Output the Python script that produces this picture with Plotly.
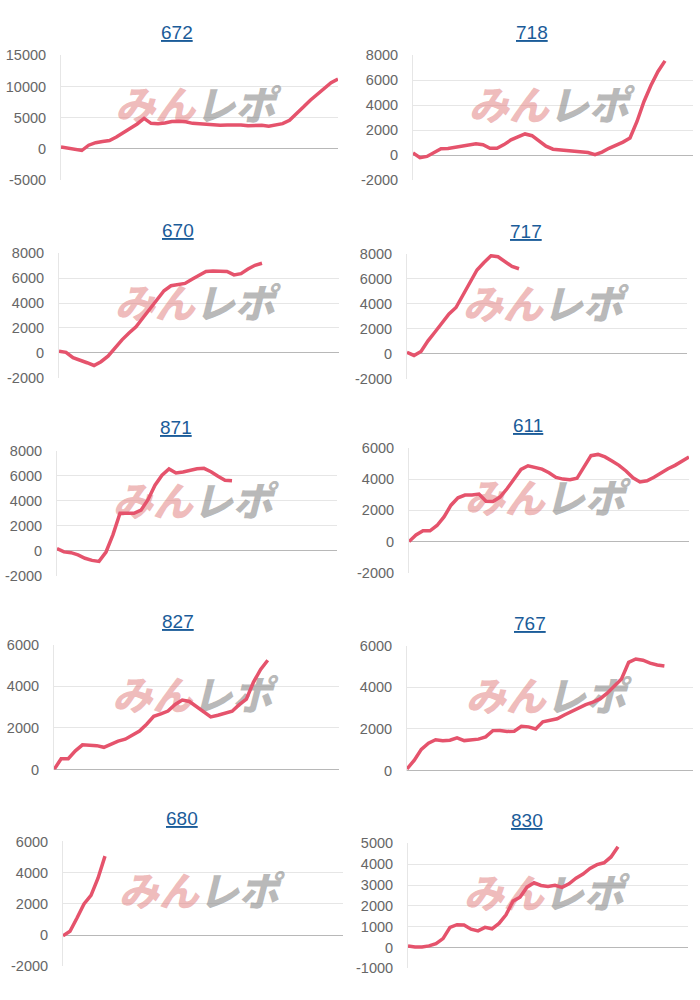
import plotly.graph_objects as go

# ---- data (balance per ~200 games) ----
titles = ["672", "718", "670", "717", "871", "611", "827", "767", "680", "830"]

s672 = [300, 100, -50, -250, 600, 1000, 1200, 1350, 1900, 2600, 3300, 4000, 4900, 4100,
        4050, 4150, 4400, 4450, 4350, 4100, 4050, 3950, 3850, 3800, 3850, 3900, 3850, 3700,
        3800, 3800, 3650, 3850, 4050, 4600, 5600, 6700, 7800, 8750, 9650, 10600, 11200]
s718 = [180, -200, -100, 180, 520, 540, 630, 770, 840, 920, 840, 560, 560, 850, 1230, 1500,
        1700, 1560, 1150, 720, 480, 420, 430, 340, 270, 220, 50, 250, 550, 780, 1050, 1380,
        2700, 4300, 5600, 6700, 7550]
s670 = [150, 50, -370, -610, -780, -1000, -700, -250, 450, 1050, 1600, 2100, 2820, 3550,
        4280, 4980, 5380, 5440, 5570, 5900, 6250, 6520, 6560, 6560, 6530, 6250, 6350, 6720,
        7020, 7180]
s717 = [130, -120, 200, 1050, 1760, 2480, 3200, 3720, 4680, 5700, 6720, 7320, 7860, 7780,
        7420, 7000, 6820]
s871 = [180, -90, -150, -330, -600, -770, -850, -100, 1300, 3000, 3000, 3000, 3250, 4090,
        5250, 6050, 6550, 6230, 6300, 6430, 6560, 6600, 6330, 5960, 5650, 5600]
s611 = [0, 420, 690, 690, 1030, 1580, 2330, 2800, 2980, 2980, 3040, 2580, 2560, 2850, 3380,
        4010, 4620, 4850, 4750, 4640, 4410, 4110, 4000, 3960, 4050, 4760, 5500, 5580, 5420,
        5160, 4880, 4520, 4080, 3820, 3890, 4120, 4420, 4660, 4880, 5130, 5420]
s827 = [0, 520, 520, 900, 1190, 1190, 1150, 1070, 1240, 1370, 1460, 1660, 1850, 2180, 2560,
        2680, 2810, 3130, 3340, 3270, 3020, 2730, 2530, 2610, 2690, 2800, 3120, 3380, 4200,
        4810, 5250]
s767 = [80, 490, 1020, 1320, 1480, 1430, 1460, 1570, 1440, 1460, 1510, 1620, 1920, 1930,
        1880, 1890, 2130, 2100, 2000, 2340, 2410, 2490, 2670, 2850, 3020, 3170, 3290, 3440,
        3720, 4040, 4400, 5200, 5360, 5300, 5160, 5070, 5020]
s680 = [-40, 250, 1100, 2000, 2550, 3650, 5060]
s830 = [80, 30, 30, 80, 190, 430, 970, 1100, 1080, 880, 800, 970, 900, 1160, 1570, 2230,
        2420, 2900, 3110, 2980, 2930, 2990, 2890, 3060, 3330, 3530, 3800, 3980, 4070, 4350,
        4840]

series = [s672, s718, s670, s717, s871, s611, s827, s767, s680, s830]

# ---- y tick values per chart ----
y_ticks = [
    [-5000, 0, 5000, 10000, 15000],
    [-2000, 0, 2000, 4000, 6000, 8000],
    [-2000, 0, 2000, 4000, 6000, 8000],
    [-2000, 0, 2000, 4000, 6000, 8000],
    [-2000, 0, 2000, 4000, 6000, 8000],
    [-2000, 0, 2000, 4000, 6000],
    [0, 2000, 4000, 6000],
    [0, 2000, 4000, 6000],
    [-2000, 0, 2000, 4000, 6000],
    [-1000, 0, 1000, 2000, 3000, 4000, 5000],
]
X_MAX = 40

# plot boxes in pixels: (left, right, top, bottom)
boxes = [(61, 338, 48, 175), (413, 693, 48, 175),
         (59, 339, 249, 376), (407, 687, 250, 377),
         (57, 337, 450, 577), (409, 689, 447, 574),
         (54, 339, 647, 774), (407, 693, 648, 775),
         (63, 343, 847, 974), (408, 688, 849, 976)]
title_pos = [(177, 25), (532, 25), (178, 226), (526, 227), (176, 426), (528, 424),
             (178, 623), (530, 625), (182, 824), (527, 826)]

W, H = 700, 1000
LINE_COLOR = "#e5536c"
TICK_FONT = dict(family="Liberation Sans, Arial, sans-serif", size=14.5, color="#666666")

fig = go.Figure()
layout = dict(width=W, height=H, margin=dict(l=0, r=0, t=0, b=0),
              paper_bgcolor="white", plot_bgcolor="white", showlegend=False)
annotations = []

wm_text = ("<i><span style='color:rgba(225,130,130,0.55)'>みん</span>"
           "<span style='color:rgba(125,125,125,0.55)'>レポ</span></i>")

for i, (vals, (l, r, t, b)) in enumerate(zip(series, boxes)):
    n = i + 1
    xa = "x" if n == 1 else f"x{n}"
    ya = "y" if n == 1 else f"y{n}"
    xkey = "xaxis" if n == 1 else f"xaxis{n}"
    ykey = "yaxis" if n == 1 else f"yaxis{n}"
    tv = y_ticks[i]
    y0, y1 = tv[0], tv[-1]

    # watermark (drawn beneath the line)
    fig.add_trace(go.Scatter(
        x=[X_MAX * 0.485], y=[y1 - 0.44 * (y1 - y0)], mode="text", text=[wm_text],
        textfont=dict(family="Noto Sans CJK JP", size=40, weight=900),
        xaxis=xa, yaxis=ya, hoverinfo="skip", cliponaxis=False))

    fig.add_trace(go.Scatter(
        x=list(range(len(vals))), y=vals, mode="lines",
        line=dict(color=LINE_COLOR, width=3.5),
        xaxis=xa, yaxis=ya, hoverinfo="skip"))

    layout[xkey] = dict(domain=[l / W, r / W], anchor=ya, range=[0, X_MAX],
                        showgrid=False, zeroline=False, showticklabels=False,
                        showline=False, fixedrange=True)
    layout[ykey] = dict(domain=[1 - b / H, 1 - t / H], anchor=xa, range=[y0, y1],
                        tickmode="array", tickvals=tv, ticktext=[str(v) for v in tv],
                        showgrid=True, gridcolor="#e6e6e6",
                        gridwidth=1, zeroline=True, zerolinecolor="#b8b8b8", zerolinewidth=1,
                        showline=True, linecolor="#e6e6e6", linewidth=1,
                        ticks="", ticklabelstandoff=11, tickfont=TICK_FONT,
                        fixedrange=True)

    tx, ty = title_pos[i]
    annotations.append(dict(
        text=f"<u>{titles[i]}</u>", x=tx / W, y=1 - ty / H, xref="paper", yref="paper",
        xanchor="center", yanchor="middle", showarrow=False,
        font=dict(family="Liberation Sans, Arial, sans-serif", size=19, color="#1b5c99")))

layout["annotations"] = annotations
fig.update_layout(**layout)
fig.write_html("out.html")
